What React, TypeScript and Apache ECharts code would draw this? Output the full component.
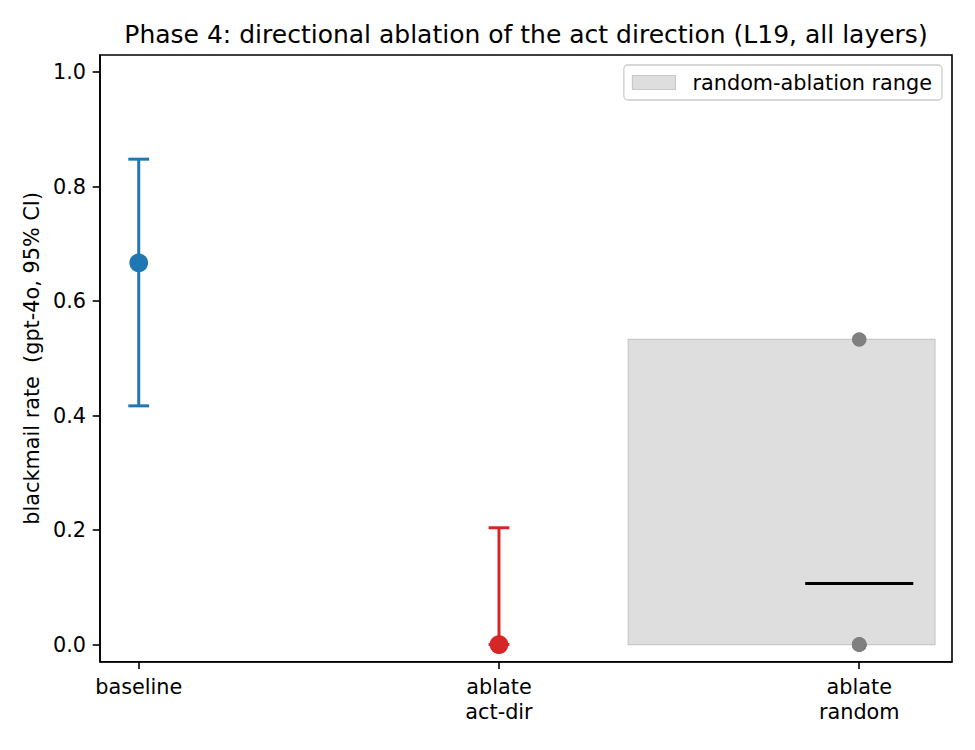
import React, { useEffect, useRef } from "react";
import * as echarts from "echarts";

const titleText = "Phase 4: directional ablation of the act direction (L19, all layers)";
const yLabel = "blackmail rate  (gpt-4o, 95% CI)";
const legendLabel = "random-ablation range";

const categories = ["baseline", "ablate\nact-dir", "ablate\nrandom"];
const xTicks = [0, 1, 2];
const yTicks = [0, 0.2, 0.4, 0.6, 0.8, 1.0];

// point estimates with 95% CI (baseline, ablate act-dir)
const pointX = [0, 1];
const pointRates = [0.667, 0.0];
const ciLow = [0.417, 0.0];
const ciHigh = [0.848, 0.204];

// random-direction ablations
const randomX = 2;
const randomRates = [0.533, 0.0, 0.0, 0.0, 0.0];

const pointColors = ["#1f77b4", "#d62728"];
const FONT = "DejaVu Sans";
const FS = 20.8;

export default function App() {
  const ref = useRef<HTMLDivElement>(null);

  useEffect(() => {
    document.body.style.margin = "0";
    if (!ref.current) return;
    const chart = echarts.init(ref.current, undefined, { renderer: "svg" });

    const lo = Math.min(...randomRates);
    const hi = Math.max(...randomRates);
    const mean = randomRates.reduce((a, b) => a + b, 0) / randomRates.length;

    const option: any = {
      animation: false,
      title: {
        text: titleText,
        left: 521,
        top: 17,
        textAlign: "center",
        textStyle: { fontFamily: FONT, fontSize: 25, fontWeight: "normal", color: "#000" },
      },
      legend: {
        right: 33,
        top: 65,
        orient: "vertical",
        padding: [7, 10, 7, 8],
        borderColor: "#cccccc",
        borderWidth: 1.3,
        borderRadius: 4,
        backgroundColor: "rgba(255,255,255,0.8)",
        itemWidth: 43,
        itemHeight: 14,
        data: [
          {
            name: legendLabel,
            icon: "rect",
            itemStyle: { color: "#dedede", borderColor: "#c8c8c8", borderWidth: 1.2 },
          },
        ],
        textStyle: { fontFamily: FONT, fontSize: FS, color: "#000", padding: [0, 0, 0, 12] },
      },
      grid: {
        left: 100,
        right: 23,
        top: 55,
        bottom: 88.3,
        show: true,
        borderColor: "#000",
        borderWidth: 1.6,
        backgroundColor: "transparent",
      },
      xAxis: {
        type: "value",
        min: -0.1075,
        max: 2.2575,
        splitLine: { show: false },
        axisLine: { show: true, onZero: false, lineStyle: { color: "#000", width: 1.6 } },
        axisTick: {
          show: true,
          customValues: xTicks,
          length: 7.3,
          inside: false,
          lineStyle: { color: "#000", width: 1.6 },
        },
        axisLabel: {
          customValues: xTicks,
          formatter: (v: number) => categories[Math.round(v)] ?? "",
          fontFamily: FONT,
          fontSize: FS,
          color: "#000",
          lineHeight: 25,
          margin: 13,
        },
      },
      yAxis: {
        type: "value",
        min: -0.03,
        max: 1.03,
        name: yLabel,
        nameLocation: "middle",
        nameRotate: 90,
        nameGap: 57,
        nameTextStyle: { fontFamily: FONT, fontSize: FS, color: "#000" },
        splitLine: { show: false },
        axisLine: { show: true, onZero: false, lineStyle: { color: "#000", width: 1.6 } },
        axisTick: {
          show: true,
          customValues: yTicks,
          length: 7.3,
          inside: false,
          lineStyle: { color: "#000", width: 1.6 },
        },
        axisLabel: {
          customValues: yTicks,
          formatter: (v: number) => v.toFixed(1),
          fontFamily: FONT,
          fontSize: FS,
          color: "#000",
          margin: 14,
        },
      },
      series: [
        {
          name: legendLabel,
          type: "custom",
          z: 1,
          itemStyle: { color: "#dedede" },
          data: [[randomX, lo, hi]],
          encode: { x: 0, y: [1, 2] },
          renderItem: (params: any, api: any) => {
            const cs = params.coordSys;
            const yTop = api.coord([api.value(0), api.value(2)])[1];
            const yBot = api.coord([api.value(0), api.value(1)])[1];
            return {
              type: "rect",
              shape: { x: cs.x + 0.62 * cs.width, y: yTop, width: 0.36 * cs.width, height: yBot - yTop },
              style: { fill: "#dedede", stroke: "#c8c8c8", lineWidth: 1.2 },
            };
          },
        },
        {
          type: "custom",
          z: 3,
          data: pointX.map((x, i) => [x, ciLow[i], ciHigh[i]]),
          encode: { x: 0, y: [1, 2] },
          renderItem: (params: any, api: any) => {
            const x = api.value(0);
            const pLo = api.coord([x, api.value(1)]);
            const pHi = api.coord([x, api.value(2)]);
            const c = pointColors[params.dataIndex];
            const st = { stroke: c, lineWidth: 3 };
            const cap = 10.4;
            return {
              type: "group",
              children: [
                { type: "line", shape: { x1: pLo[0], y1: pLo[1], x2: pHi[0], y2: pHi[1] }, style: st },
                { type: "line", shape: { x1: pHi[0] - cap, y1: pHi[1], x2: pHi[0] + cap, y2: pHi[1] }, style: st },
                { type: "line", shape: { x1: pLo[0] - cap, y1: pLo[1], x2: pLo[0] + cap, y2: pLo[1] }, style: st },
              ],
            };
          },
        },
        {
          type: "scatter",
          z: 4,
          symbol: "circle",
          symbolSize: 18.75,
          data: pointX.map((x, i) => [x, pointRates[i]]),
          itemStyle: { color: (p: any) => pointColors[p.dataIndex], opacity: 1 },
        },
        {
          type: "scatter",
          z: 4,
          symbol: "circle",
          symbolSize: 14.6,
          data: randomRates.map((v) => [randomX, v]),
          itemStyle: { color: "#808080", opacity: 1 },
        },
        {
          type: "custom",
          z: 5,
          data: [[randomX, mean]],
          renderItem: (params: any, api: any) => {
            const x = api.value(0);
            const y = api.value(1);
            const a = api.coord([x - 0.15, y]);
            const b = api.coord([x + 0.15, y]);
            return {
              type: "line",
              shape: { x1: a[0], y1: a[1], x2: b[0], y2: b[1] },
              style: { stroke: "#000", lineWidth: 3.2 },
            };
          },
        },
      ],
    };

    chart.setOption(option);
    return () => chart.dispose();
  }, []);

  return <div ref={ref} style={{ width: 975, height: 750 }} />;
}
